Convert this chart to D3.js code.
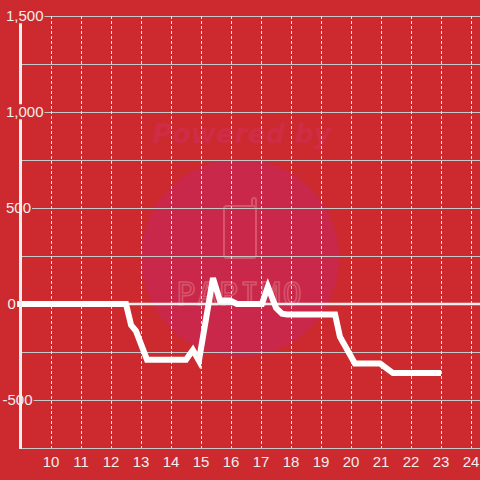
<!DOCTYPE html>
<html><head><meta charset="utf-8">
<script src="https://cdn.jsdelivr.net/npm/d3@7"></script>
<style>html,body{margin:0;padding:0;background:#cc2a2f;}svg{display:block;}</style>
</head><body>
<script>
const hours = [8.87, 12.5, 12.67, 12.83, 13.2, 14.5, 14.73, 14.93, 15.4, 15.63, 15.97, 16.2, 17.03, 17.23, 17.5, 17.7, 17.87, 19.47, 19.63, 20.13, 20.97, 21.4, 23.0];
const values = [0, 0, -110, -140, -290, -290, -240, -295, 135, 18, 18, 0, 0, 90, -20, -50, -55, -55, -170, -310, -310, -360, -360];
const xTicks = [10, 11, 12, 13, 14, 15, 16, 17, 18, 19, 20, 21, 22, 23, 24];
const yTicks = [-500, 0, 500, 1000, 1500];
const yGrid = [-750, -500, -250, 250, 500, 750, 1000, 1250, 1500];

const W = 480, H = 480;
const bg = "#cc2a2f";
const svg = d3.select("body").append("svg").attr("width", W).attr("height", H);
svg.append("rect").attr("width", W).attr("height", H).attr("fill", bg);

const x = d3.scaleLinear().domain([9, 24 + 1/3]).range([21, 481]);
const y = d3.scaleLinear().domain([-750, 1500]).range([448, 16]);

// watermark
const wm = svg.append("g");
wm.append("circle").attr("cx", 240).attr("cy", 258).attr("r", 99).attr("fill", "#c9284a");
wm.append("text").attr("x", 242).attr("y", 143).attr("text-anchor", "middle")
  .attr("font-family", "DejaVu Sans").attr("font-weight", "bold").attr("font-style", "italic")
  .attr("font-size", 27).attr("fill", "#cf2c45").text("Powered by");
wm.append("rect").attr("x", 224).attr("y", 206).attr("width", 32).attr("height", 52).attr("rx", 3)
  .attr("fill", "none").attr("stroke", "#d6556a").attr("stroke-width", 2);
wm.append("path").attr("d", "M252,206 V200 a2,2 0 0 1 4,0 V210").attr("fill", "none").attr("stroke", "#d6556a").attr("stroke-width", 2);
wm.append("text").attr("x", 240).attr("y", 305).attr("text-anchor", "middle")
  .attr("font-family", "DejaVu Sans Mono").attr("font-size", 32).attr("letter-spacing", 2)
  .attr("fill", "none").attr("stroke", "#d6556a").attr("stroke-width", 1.6).text("PAPIMO");

// horizontal grid
svg.append("g").selectAll("line").data(yGrid).join("line")
  .attr("x1", 21).attr("x2", W).attr("y1", d => y(d)).attr("y2", d => y(d))
  .attr("stroke", "#c8c8c8").attr("stroke-width", 1).attr("shape-rendering", "crispEdges");

// vertical dotted grid
svg.append("g").selectAll("line").data(xTicks).join("line")
  .attr("x1", d => Math.round(x(d)) + 0.5).attr("x2", d => Math.round(x(d)) + 0.5)
  .attr("y1", y(1500)).attr("y2", y(-750))
  .attr("stroke", "#e6e6e6").attr("stroke-width", 1).attr("stroke-dasharray", "3,2");

// zero line
svg.append("line").attr("x1", 21).attr("x2", W).attr("y1", y(0)).attr("y2", y(0))
  .attr("stroke", "#eeeeee").attr("stroke-width", 2.5);

// data line
const line = d3.line().x((d, i) => x(hours[i])).y(d => y(d));
svg.append("path").datum(values).attr("d", line).attr("fill", "none")
  .attr("stroke", "#ffffff").attr("stroke-width", 6).attr("stroke-linejoin", "miter");

// y tick labels
const fmt = v => d3.format(",")(v).replace("\u2212", "-");
const labelStart = v => v === 0 ? 7.5 : (v < 0 ? 2.5 : 6);
const yl = svg.append("g").selectAll("g").data(yTicks).join("g");
const bgLow = svg.append("g"), axisG = svg.append("g"), bgHigh = svg.append("g"), txtG = svg.append("g");
yTicks.forEach(d => {
  const t = txtG.append("text").attr("x", labelStart(d)).attr("y", y(d)).attr("dy", "0.35em")
    .attr("text-anchor", "start").attr("font-family", "Liberation Sans").attr("font-size", 15)
    .attr("fill", "#eeeeee").text(fmt(d));
  const b = t.node().getBBox();
  (d >= 1000 ? bgHigh : bgLow).append("rect")
    .attr("x", b.x - 1).attr("y", b.y + 1).attr("width", b.width + 2).attr("height", b.height - 2)
    .attr("fill", bg);
});

// y axis line
axisG.append("line").attr("x1", 20.5).attr("x2", 20.5).attr("y1", 16).attr("y2", 449)
  .attr("stroke", "#eeeeee").attr("stroke-width", 3);

// x tick labels
svg.append("g").selectAll("text").data(xTicks).join("text")
  .attr("x", d => x(d)).attr("y", 467).attr("text-anchor", "middle")
  .attr("font-family", "Liberation Sans").attr("font-size", 15).attr("fill", "#eeeeee").text(d => d);
</script>
</body></html>
